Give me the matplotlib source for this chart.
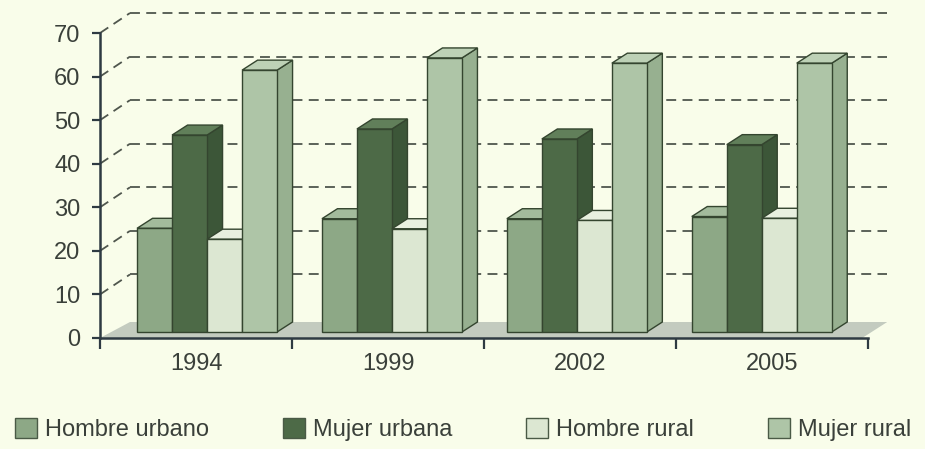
import matplotlib
matplotlib.use('Agg')
import matplotlib.pyplot as plt
from matplotlib.patches import Polygon, Patch
from matplotlib import font_manager

# ---- data ----
years = ['1994', '1999', '2002', '2005']
series = ['Hombre urbano', 'Mujer urbana', 'Hombre rural', 'Mujer rural']
hombre_urbano = [23.8, 26.0, 26.0, 26.5]
mujer_urbana = [45.2, 46.6, 44.3, 43.0]
hombre_rural = [21.3, 23.7, 25.6, 26.1]
mujer_rural = [60.1, 62.9, 61.7, 61.7]
yticks = [0, 10, 20, 30, 40, 50, 60, 70]

values = [hombre_urbano, mujer_urbana, hombre_rural, mujer_rural]

# ---- styles ----
front_cols = ['#8da886', '#4d6a47', '#dce7d2', '#aec5a7']
top_cols = ['#a3bb9c', '#617f5a', '#e8f0df', '#bdd1b6']
side_cols = ['#789372', '#3c5638', '#c5d3bb', '#97b090']
edge = '#34452f'
bg = '#f9fdea'
txt = '#3a403a'
axcol = '#2e3a42'
grid_col = '#4f564d'

plt.rcParams['font.family'] = ['Liberation Sans', 'DejaVu Sans']

installed = {f.name for f in font_manager.fontManager.ttflist}
if 'Liberation Sans Narrow' in installed:
    leg_family, leg_size = 'Liberation Sans Narrow', 20
else:
    leg_family, leg_size = 'Liberation Sans', 17

W, H = 925, 449
fig = plt.figure(figsize=(W / 100, H / 100), dpi=100, facecolor=bg)

# axes geometry in pixels
x0_px, y0_px = 100, 338
px_x = 192.0          # pixels per category
px_y = 4.357          # pixels per value unit
xmax, ymax = 4.1, 75
ax = fig.add_axes([x0_px / W, (H - y0_px) / H, xmax * px_x / W, ymax * px_y / H])
ax.set_xlim(0, xmax)
ax.set_ylim(0, ymax)
ax.patch.set_alpha(0)

# depth parameters (data units)
wall_dx, wall_dy = 30 / px_x, 20 / px_y
base = 6 / px_y
bar_w = 35 / px_x
bar_dx, bar_dy = 15.5 / px_x, 10 / px_y
group_start, group_step = 0.193, 0.963

# floor
floor = Polygon([(0, 0), (3.97, 0), (xmax, wall_dy * 0.8), (wall_dx, wall_dy * 0.8)],
                closed=True, facecolor='#c3cbbf', edgecolor='none', zorder=1)
ax.add_patch(floor)

# back-wall gridlines with diagonal connectors
dash = (0, (5.5, 3.5))
for v in yticks[1:]:
    ax.plot([0, wall_dx], [v, v + wall_dy], ls=dash, color=grid_col, lw=1.3,
            zorder=1, clip_on=False)
    ax.plot([wall_dx, xmax], [v + wall_dy, v + wall_dy], ls=dash, color=grid_col,
            lw=1.3, zorder=1, clip_on=False)

# bars
for i in range(len(years)):
    for j, vals in enumerate(values):
        v = vals[i]
        x = group_start + i * group_step + j * bar_w
        z = 3 + j * 3 + i * 20
        ax.bar(x, v, width=bar_w, bottom=base, align='edge', color=front_cols[j],
               edgecolor=edge, linewidth=1.0, zorder=z + 2)
        top = Polygon([(x, base + v), (x + bar_w, base + v),
                       (x + bar_w + bar_dx, base + v + bar_dy), (x + bar_dx, base + v + bar_dy)],
                      closed=True, facecolor=top_cols[j], edgecolor=edge, lw=1.0, zorder=z + 1)
        side = Polygon([(x + bar_w, base), (x + bar_w + bar_dx, base + bar_dy),
                        (x + bar_w + bar_dx, base + v + bar_dy), (x + bar_w, base + v)],
                       closed=True, facecolor=side_cols[j], edgecolor=edge, lw=1.0, zorder=z)
        ax.add_patch(top)
        ax.add_patch(side)

# axes / spines
for s in ['top', 'right']:
    ax.spines[s].set_visible(False)
ax.spines['left'].set_bounds(0, 70)
ax.spines['bottom'].set_bounds(0, 4)
for s in ['left', 'bottom']:
    ax.spines[s].set_color(axcol)
    ax.spines[s].set_linewidth(1.8)
    ax.spines[s].set_zorder(200)

ax.set_yticks(yticks)
ax.set_yticklabels([str(t) for t in yticks])
ax.tick_params(axis='y', direction='out', length=6, width=1.6, color=axcol,
               labelsize=17, labelcolor=txt, pad=8)
ax.set_xticks([0, 1, 2, 3, 4])
ax.set_xticklabels([''] * 5)
ax.set_xticks([k + 0.5 for k in range(len(years))], minor=True)
ax.set_xticklabels(years, minor=True)
ax.tick_params(axis='x', which='major', direction='out', length=8, width=1.6, color=axcol)
ax.tick_params(axis='x', which='minor', length=0, labelsize=17, labelcolor=txt, pad=11)

# legend
fs_px = leg_size * 100 / 72
handles = [Patch(facecolor=front_cols[j], edgecolor='#4a5a46', linewidth=1.0) for j in range(4)]
leg = fig.legend(handles, series, loc='lower left', bbox_to_anchor=(15 / W, 8 / H), ncol=4,
                 frameon=False, prop={'family': leg_family, 'size': leg_size},
                 labelcolor=txt, handlelength=22 / fs_px, handleheight=22 / fs_px,
                 handletextpad=8 / fs_px, columnspacing=74 / fs_px,
                 borderpad=0, borderaxespad=0)

fig.savefig('out.png', dpi=100, facecolor=bg)
